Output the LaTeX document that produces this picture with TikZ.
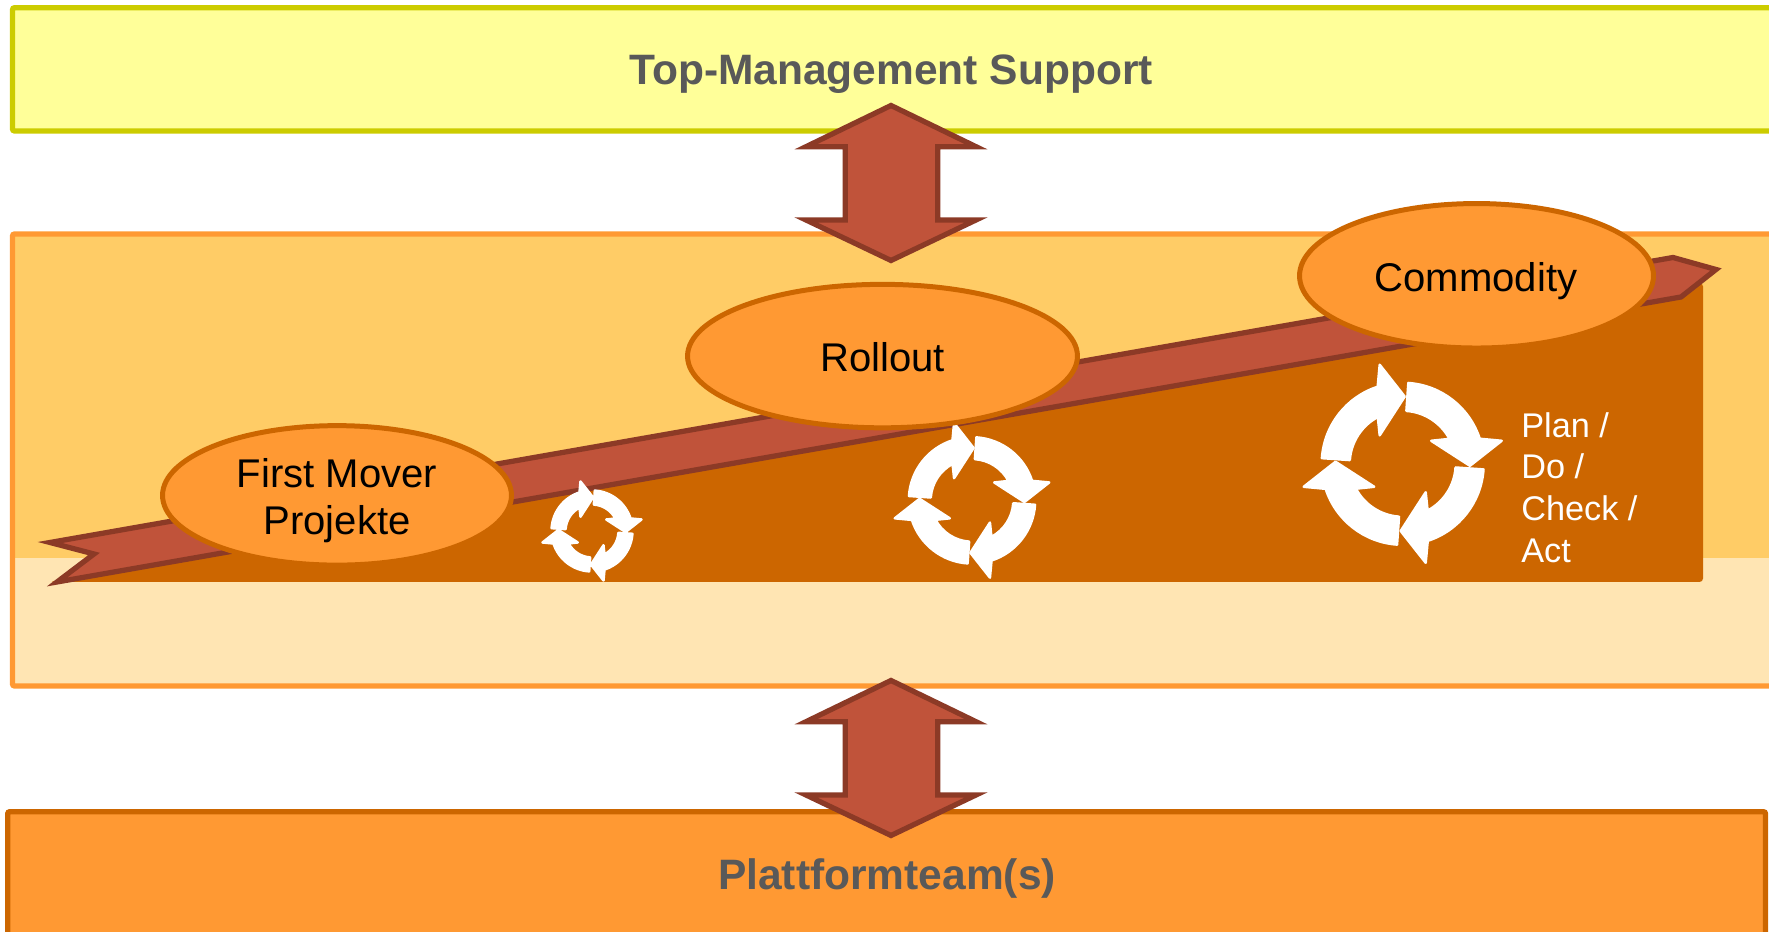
\documentclass[tikz,border=0pt]{standalone}
\usepackage{fontspec}
\setmainfont{Liberation Sans}
\usepackage{tikz}
\usetikzlibrary{shapes.geometric}
\definecolor{topfill}{HTML}{FFFF99}
\definecolor{topline}{HTML}{CCCC00}
\definecolor{midfill}{HTML}{FFCC66}
\definecolor{lowfill}{HTML}{FFE5B3}
\definecolor{platform}{HTML}{FF9933}
\definecolor{ramp}{HTML}{CC6600}
\definecolor{ribbon}{HTML}{C0533A}
\definecolor{ribbonline}{HTML}{8C3A26}
\definecolor{headtext}{HTML}{595959}
\tikzset{
  phase/.style={ellipse,draw=ramp,fill=platform,line width=0.1cm,inner sep=0pt},
  phasetext/.style={align=center,font=\fontsize{22.8}{27}\selectfont,text=black},
  headline/.style={font=\fontsize{24.2}{29}\selectfont\bfseries,text=headtext},
  bandline/.style={line width=0.105cm,rounded corners=0.04cm},
  cyclearrow/.pic={
    \foreach \r in {0,90,180,270}
    \filldraw[white,line width=0.05cm,line join=round,rotate=\r] (176:81) arc[start angle=176,end angle=108,radius=81]
      -- (-23,99) -- (2,67.2) -- (-23,28.5) -- (118:53) arc[start angle=118,end angle=176,radius=53] -- cycle;
  }
}
\begin{document}
\begin{tikzpicture}[line cap=butt,line join=miter,x=0.02cm,y=0.02cm]
  \clip (0,0) rectangle (1769,932);
  % bands
  \draw[bandline,draw=topline,fill=topfill] (12.5,801) rectangle (1800,924.3);
  \fill[midfill] (12.5,246) rectangle (1800,698);
  \fill[lowfill] (12.5,246) rectangle (1800,374);
  \draw[bandline,draw=platform] (12.5,246) rectangle (1800,698);
  \draw[bandline,draw=ramp,fill=platform] (7.7,-40) rectangle (1765.5,120.3);
  \node[headline] (top) at (891,857.5) {Top-Management Support};
  \node[headline] (team) at (887,53) {Plattformteam(s)};
  % ramp and ribbon
  \fill[ramp,rounded corners=2] (50,350) -- (1703,350) -- (1703,649) -- (1640,649) -- cycle;
  \draw[line width=0.105cm,draw=ribbonline,fill=ribbon] (50,389.5) -- (94,378) -- (57,350) -- (1681,635) -- (1716,662.5) -- (1673,674.5) -- cycle;
  % double arrows
  \foreach \y in {0,-575}
  \draw[shift={(0,\y)},line width=0.105cm,draw=ribbonline,fill=ribbon] (891,826.5) -- (976,785.3) -- (937.7,785.3) -- (937.7,712) -- (976,712)
    -- (891,671.5) -- (806,712) -- (845.3,712) -- (845.3,785.3) -- (806,785.3) -- cycle;
  % cycle symbols
  \pic[scale=0.5] at (592,401) {cyclearrow};
  \pic[scale=0.78] at (972,431.6) {cyclearrow};
  \pic at (1402.7,468.2) {cyclearrow};
  \node[anchor=west,align=left,text=white,inner sep=0pt,font=\fontsize{19.5}{23.7}\selectfont] (pdca) at (1521,444.5) {Plan /\\Do /\\Check /\\Act};
  % phases
  \node[phase,minimum width=6.98cm,minimum height=2.79cm] (first) at (337,436.6) {};
  \node[phase,minimum width=7.8cm,minimum height=2.87cm] (rollout) at (882.5,575.9) {};
  \node[phase,minimum width=7.08cm,minimum height=2.89cm] (commodity) at (1476.5,656.2) {};
  \node[phasetext] (firsttext) at (337,431.4) {First Mover\\Projekte};
  \node[phasetext] (rollouttext) at (882.5,574.75) {Rollout};
  \node[phasetext] (commoditytext) at (1476,651) {Commodity};
\end{tikzpicture}
\end{document}
